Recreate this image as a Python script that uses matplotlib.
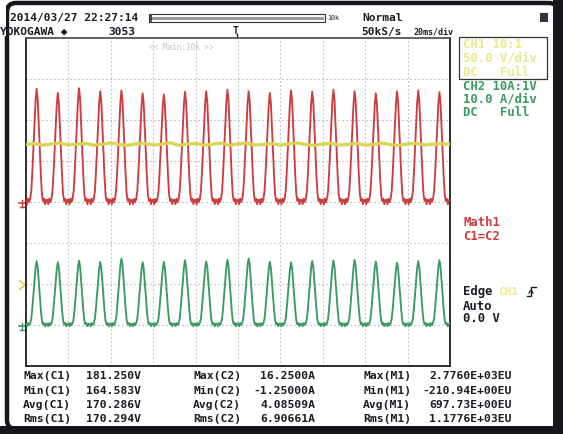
import numpy as np
import matplotlib
matplotlib.use("Agg")
import matplotlib.pyplot as plt
from matplotlib.patches import Rectangle, FancyBboxPatch

# ---------------- data ----------------
# one 10 ms period of the rectified-mains pulse, relative to its peak,
# sampled every 0.5 ms starting 5 ms before the peak
pulse_shape = [0.02, -0.02, 0.03, 0.00, 0.03, 0.10, 0.27, 0.47, 0.68, 0.89,
               1.00, 0.91, 0.70, 0.47, 0.24, 0.07, 0.01, 0.03, -0.02, 0.02]
sample_ms = 0.5
period_ms = 10.0

# CH2 current peaks (A), one per pulse
c2_peaks = [15.6, 15.3, 15.7, 15.4, 16.2, 15.3, 15.4, 15.8, 15.5, 15.9,
            16.25, 15.4, 15.3, 15.6, 15.7, 15.9, 15.5, 15.2, 15.6, 15.8]
# Math1 (C1*C2) peaks (EU), one per pulse
m1_peaks = [2760, 2660, 2776, 2700, 2720, 2650, 2620, 2690, 2700, 2740,
            2700, 2660, 2720, 2690, 2740, 2700, 2650, 2700, 2720, 2680]

# CH1 bus voltage (V), every 4 ms across the screen
c1_step_ms = 4.0
c1_volts = [170.2, 171.3, 169.4, 170.8, 171.9, 169.6, 170.4, 171.5, 169.1, 170.6,
            172.1, 170.1, 169.2, 170.9, 171.6, 169.5, 170.5, 172.3, 169.2, 170.7,
            171.4, 169.4, 170.3, 171.9, 169.0, 170.8, 171.7, 169.6, 170.2, 171.3,
            169.3, 170.9, 172.0, 170.0, 169.2, 170.6, 171.6, 169.5, 170.4, 171.4,
            169.4, 170.2, 171.8, 170.0, 169.1, 170.8, 171.5, 169.6, 170.5, 171.2,
            170.3]

meas_labels = [["Max(C1)", "Min(C1)", "Avg(C1)", "Rms(C1)"],
               ["Max(C2)", "Min(C2)", "Avg(C2)", "Rms(C2)"],
               ["Max(M1)", "Min(M1)", "Avg(M1)", "Rms(M1)"]]
meas_values = [["181.250V", "164.583V", "170.286V", "170.294V"],
               ["16.2500A", "-1.25000A", "4.08509A", "6.90661A"],
               ["2.7760E+03EU", "-210.94E+00EU", "697.73E+00EU", "1.1776E+03EU"]]

# ---------------- build traces ----------------
def pulse_train(peaks):
    shape = np.array(pulse_shape)
    vals = np.concatenate([shape * p for p in peaks] + [[shape[0] * peaks[-1]]])
    t = np.arange(len(vals)) * sample_ms
    return t, vals

t_c2, v_c2 = pulse_train(c2_peaks)
t_m1, v_m1 = pulse_train(m1_peaks)
t_c1 = np.arange(len(c1_volts)) * c1_step_ms

# ---------------- figure ----------------
W, H = 563, 434
fig = plt.figure(figsize=(W / 100, H / 100), dpi=100)
fig.patch.set_facecolor("white")

MONO = ["DejaVu Sans Mono", "DejaVu Sans"]
RED = "#cc3d3d"
GREEN = "#3a9a62"
YEL = "#d9d452"
YEL_TXT = "#ece78a"
INK = "#1c1c24"

ov = fig.add_axes([0, 0, 1, 1])
ov.set_xlim(0, W)
ov.set_ylim(H, 0)
ov.axis("off")

# instrument bezel
ov.add_patch(FancyBboxPatch((7, 3), 551, 426, boxstyle="round,pad=0,rounding_size=9",
                            fc="none", ec="#16161c", lw=3.2, zorder=1))
ov.add_patch(Rectangle((553, 0), 10, H, fc="#16161c", ec="none", zorder=1))
ov.add_patch(Rectangle((0, 426), W, 8, fc="#16161c", ec="none", zorder=1))
ov.add_patch(Rectangle((0, 0), 6, 36, fc="white", ec="none", zorder=1.5))

# waveform area
L, R, T, B = 26, 450, 38, 366
ax = fig.add_axes([L / W, 1 - B / H, (R - L) / W, (B - T) / H])
ax.set_xlim(0, 200)
ax.set_ylim(0, 8)
ax.set_xticks([])
ax.set_yticks([])
for s in ax.spines.values():
    s.set_color(INK)
    s.set_linewidth(1.3)
ax.spines["top"].set_color("#555555")
grid_kw = dict(color="#9c9c9c", lw=0.8, linestyle=(0, (1, 2.6)), zorder=0)
for x in range(20, 200, 20):
    ax.axvline(x, **grid_kw)
for y in range(1, 8):
    ax.axhline(y, **grid_kw)
ax.text(0.29, 0.985, "<< Main:10k >>", transform=ax.transAxes, ha="left", va="top",
        fontsize=5.5, color="#c4c4c4", family=MONO)

# Math1: 1000 EU/div, ground at centre line
ax_m = ax.twinx()
ax_m.set_ylim(-4000, 4000)
ax_m.plot(t_m1, v_m1, color=RED, lw=1.35, solid_joinstyle="round")

# CH2: 10 A/div, ground one division up
ax_c2 = ax.twinx()
ax_c2.set_ylim(-10, 70)
ax_c2.plot(t_c2, v_c2, color=GREEN, lw=1.35, solid_joinstyle="round")

# CH1: 50 V/div, ground two divisions up
ax_c1 = ax.twinx()
ax_c1.set_ylim(-100, 300)
ax_c1.plot(t_c1, c1_volts, color=YEL, lw=2.3, solid_joinstyle="round")

for a in (ax_m, ax_c2, ax_c1):
    a.set_xlim(0, 200)
    a.axis("off")

# ground markers on the left edge
def gnd_mark(y, color):
    ov.plot([19, 26], [y, y], color=color, lw=1.2, zorder=3)
    ov.plot([22, 22], [y - 3.5, y + 3.5], color=color, lw=1.0, zorder=3)
    ov.plot([20, 24], [y + 3.5, y + 3.5], color=color, lw=1.0, zorder=3)

gnd_mark(203, RED)
gnd_mark(326, GREEN)
ov.plot([20, 25, 20], [281, 285, 289], color=YEL, lw=1.3, zorder=3)

# header
def txt(x, y, s, size=8.1, color=INK, ha="left", weight="bold"):
    ov.text(x, y, s, ha=ha, va="center", fontsize=size, color=color,
            family=MONO, fontweight=weight, zorder=4)

txt(10, 18, "2014/03/27 22:27:14")
txt(0, 32, "YOKOGAWA \u25c6")
txt(108, 32, "3053")
txt(362, 18, "Normal")
txt(361, 32, "50kS/s", size=8.0)
txt(413, 32, "20ms/div", size=6.0)
ov.add_patch(Rectangle((149, 13.5), 176, 8, fc="none", ec="#333333", lw=0.8, zorder=3))
ov.plot([152, 322], [17.5, 17.5], color="#9a9a9a", lw=2.2, zorder=3)
ov.plot([151, 151], [14.5, 20.5], color="#333333", lw=1.2, zorder=3)
txt(327, 18, "10k", size=4.8, weight="normal")
ov.text(236, 31, "T", ha="center", va="center", fontsize=7, color=INK,
        family=MONO, fontweight="bold", zorder=4)
ov.plot([237, 237], [34, 38], color=INK, lw=1.0, zorder=4)
ov.add_patch(Rectangle((540, 13), 8, 9, fc="#333338", ec="none", zorder=3))

# right-hand channel panel
ov.add_patch(Rectangle((459, 37), 88, 42, fc="none", ec="#333333", lw=0.9, zorder=3))
txt(463, 44, "CH1 10:1", size=8.8, color=YEL_TXT)
txt(463, 58, "50.0 V/div", size=8.8, color=YEL_TXT)
txt(463, 72, "DC   Full", size=8.8, color=YEL_TXT)
txt(463, 86, "CH2 10A:1V", size=8.8, color=GREEN)
txt(463, 99, "10.0 A/div", size=8.8, color=GREEN)
txt(463, 113, "DC   Full", size=8.8, color=GREEN)
txt(463, 223, "Math1", size=8.8, color=RED)
txt(463, 236, "C1=C2", size=8.8, color=RED)
txt(463, 292, "Edge", size=8.8)
txt(498, 292, "CH1", size=8.0, color=YEL_TXT)
ov.plot([527, 531, 531, 536], [296, 296, 287, 287], color=INK, lw=1.0, zorder=4)
ov.plot([529, 531, 533], [293, 290, 293], color=INK, lw=0.9, zorder=4)
txt(463, 306, "Auto", size=8.8)
txt(463, 319, "0.0 V", size=8.8)

# measurement table
row_y = [376, 390.5, 405, 418.5]
lab_x = [23, 193, 363]
val_x = [141, 315, 512]
for c in range(3):
    for r in range(4):
        txt(lab_x[c], row_y[r], meas_labels[c][r], size=8.2)
        txt(val_x[c], row_y[r], meas_values[c][r], size=8.2, ha="right")

fig.savefig("out.png", dpi=100, facecolor="white")
